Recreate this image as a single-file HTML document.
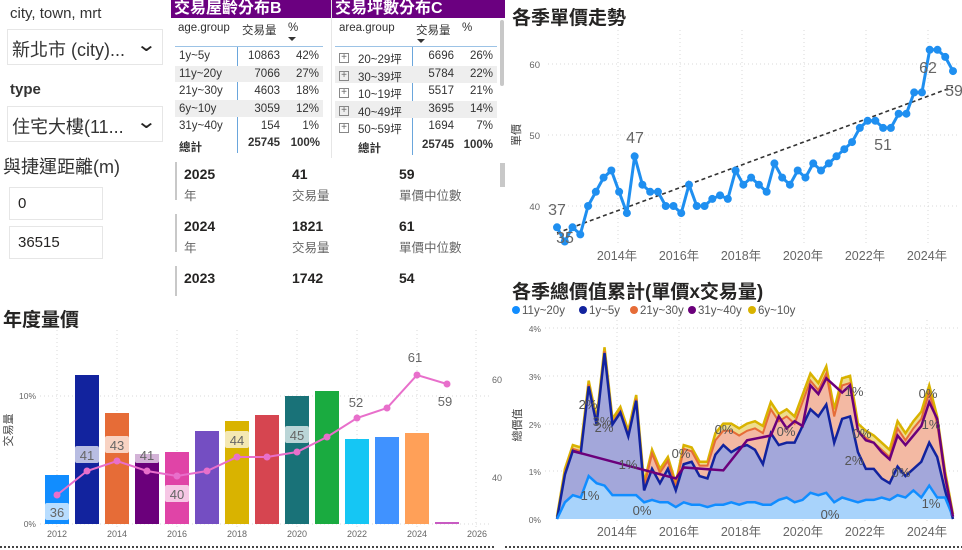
<!DOCTYPE html>
<html><head><meta charset="utf-8">
<style>
*{margin:0;padding:0;box-sizing:border-box}
body{width:962px;height:550px;background:#fff;position:relative;overflow:hidden;font-family:"Liberation Sans","Noto Sans CJK TC",sans-serif;color:#252423}
.a{position:absolute;white-space:nowrap}
.box{position:absolute;border:1px solid #e6e6e6;background:#fff}
.t{font-weight:bold;font-size:19px}
.hdr{position:absolute;background:#6b0080;color:#fff;font-weight:bold;font-size:16px;height:18px;line-height:18px;padding-left:3px}
.tb{position:absolute;font-size:11.5px;color:#333}
.sh{background:#eee}
</style></head><body>
<div class="a" style="left:10px;top:5px;font-size:15px;color:#333">city, town, mrt</div>
<div class="box" style="left:7px;top:29px;width:156px;height:36px"><span class="a" style="left:4px;top:6px;font-size:18px;color:#333">新北市 (city)...</span><span class="a" style="left:130px;top:2px;font-size:20px;transform:scaleX(1.3)">&#8964;</span></div>
<div class="a" style="left:10px;top:81px;font-size:15px;font-weight:bold;color:#333">type</div>
<div class="box" style="left:7px;top:106px;width:156px;height:36px"><span class="a" style="left:4px;top:6px;font-size:18px;color:#333">住宅大樓(11...</span><span class="a" style="left:130px;top:2px;font-size:20px;transform:scaleX(1.3)">&#8964;</span></div>
<div class="a" style="left:3px;top:153px;font-size:18px;color:#333">與捷運距離(m)</div>
<div class="box" style="left:9px;top:187px;width:94px;height:33px"><span class="a" style="left:8px;top:7px;font-size:15px">0</span></div>
<div class="box" style="left:9px;top:226px;width:94px;height:33px"><span class="a" style="left:8px;top:7px;font-size:15px">36515</span></div>

<div class="hdr" style="left:171px;top:0;width:160px">交易屋齡分布B</div>
<div class="hdr" style="left:332px;top:0;width:173px">交易坪數分布C</div>
<div class="a" style="left:331px;top:0;width:1px;height:158px;background:#e6e6e6"></div>

<svg class="a" style="left:0;top:0" width="962" height="550" xmlns="http://www.w3.org/2000/svg" id="s" font-family="Liberation Sans, Noto Sans CJK TC, sans-serif">
</svg>

<div class="tb" style="left:178px;top:22px">age.group</div>
<div class="tb" style="left:242px;top:22px">交易量</div>
<div class="tb" style="left:288px;top:22px">%</div>
<div class="a" style="left:288px;top:37px;width:0;height:0;border-left:4px solid transparent;border-right:4px solid transparent;border-top:4px solid #333"></div>
<div class="a" style="left:175px;top:46px;width:148px;height:1px;background:#9cc3e6"></div>
<div class="a" style="left:237px;top:47px;width:1px;height:106px;background:#6aa6dc"></div>
<div class="a sh" style="left:175px;top:66px;width:148px;height:16px"></div>
<div class="a sh" style="left:175px;top:100px;width:148px;height:17px"></div>

<div class="tb" style="left:339px;top:22px">area.group</div>
<div class="tb" style="left:416px;top:22px">交易量</div>
<div class="tb" style="left:462px;top:22px">%</div>
<div class="a" style="left:417px;top:39px;width:0;height:0;border-left:4px solid transparent;border-right:4px solid transparent;border-top:4px solid #333"></div>
<div class="a" style="left:335px;top:46px;width:162px;height:1px;background:#9cc3e6"></div>
<div class="a" style="left:412px;top:47px;width:1px;height:108px;background:#6aa6dc"></div>
<div class="a sh" style="left:335px;top:66px;width:162px;height:17px"></div>
<div class="a sh" style="left:335px;top:101px;width:162px;height:17px"></div>
<div class="a" style="left:500px;top:20px;width:4px;height:66px;background:#c8c8c8;border-radius:2px"></div>

<div id="rows"></div>

<div class="a" style="left:175px;top:162px;width:2px;height:38px;background:#c8c8c8"></div>
<div class="a" style="left:175px;top:214px;width:2px;height:38px;background:#c8c8c8"></div>
<div class="a" style="left:175px;top:266px;width:2px;height:30px;background:#c8c8c8"></div>
<div class="a" style="left:500px;top:163px;width:5px;height:24px;background:#c8c8c8"></div>
<div id="kpi"></div>

<div class="a t" style="left:512px;top:3px">各季單價走勢</div>
<div class="a t" style="left:3px;top:305px">年度量價</div>
<div class="a t" style="left:512px;top:277px">各季總價值累計(單價x交易量)</div>

<script>
function q(id,h){document.getElementById(id).insertAdjacentHTML('beforeend',h)}
// table rows
var B=[["1y~5y","10863","42%"],["11y~20y","7066","27%"],["21y~30y","4603","18%"],["6y~10y","3059","12%"],["31y~40y","154","1%"]];
var C=[["20~29坪","6696","26%"],["30~39坪","5784","22%"],["10~19坪","5517","21%"],["40~49坪","3695","14%"],["50~59坪","1694","7%"]];
var h='';
for(var i=0;i<5;i++){var y=50+i*17.5;
h+='<div class="tb" style="left:179px;top:'+y+'px">'+B[i][0]+'</div><div class="tb" style="left:240px;width:40px;text-align:right;top:'+y+'px">'+B[i][1]+'</div><div class="tb" style="left:290px;width:29px;text-align:right;top:'+y+'px">'+B[i][2]+'</div>';
h+='<div class="a" style="left:339px;top:'+(y+3)+'px;width:10px;height:10px;border:1px solid #888;font-size:10px;line-height:8px;text-align:center;color:#666">+</div><div class="tb" style="left:358px;top:'+(y+1)+'px">'+C[i][0]+'</div><div class="tb" style="left:415px;width:39px;text-align:right;top:'+y+'px">'+C[i][1]+'</div><div class="tb" style="left:460px;width:33px;text-align:right;top:'+y+'px">'+C[i][2]+'</div>';}
h+='<div class="tb" style="left:179px;top:139px;font-weight:bold">總計</div><div class="tb" style="left:240px;width:40px;text-align:right;top:137px;font-weight:bold">25745</div><div class="tb" style="left:282px;width:38px;text-align:right;top:137px;font-weight:bold">100%</div>';
h+='<div class="tb" style="left:358px;top:140px;font-weight:bold">總計</div><div class="tb" style="left:415px;width:39px;text-align:right;top:139px;font-weight:bold">25745</div><div class="tb" style="left:455px;width:38px;text-align:right;top:139px;font-weight:bold">100%</div>';
q('rows',h);
var K=[["2025","41","59"],["2024","1821","61"],["2023","1742","54"]];h='';
for(i=0;i<3;i++){var y=166+i*52;
var L=["年","交易量","單價中位數"];
for(var j=0;j<3;j++){var x=[184,292,399][j];
h+='<div class="a" style="left:'+x+'px;top:'+y+'px;font-size:14px;font-weight:bold">'+K[i][j]+'</div>';
if(y+20<292)h+='<div class="a" style="left:'+x+'px;top:'+(y+19)+'px;font-size:12.5px;color:#666;height:'+Math.min(17,293-y-19)+'px;overflow:hidden">'+L[j]+'</div>';}}
q('kpi',h);

var S='';
function T(x,y,s,o){o=o||{};S+='<text x="'+x+'" y="'+y+'" font-size="'+(o.fs||11)+'" fill="'+(o.c||'#666')+'" text-anchor="'+(o.a||'middle')+'"'+(o.ex||'')+'>'+s+'</text>'}
function Ln(x1,y1,x2,y2,c,w,d){S+='<line x1="'+x1+'" y1="'+y1+'" x2="'+x2+'" y2="'+y2+'" stroke="'+c+'" stroke-width="'+(w||1)+'"'+(d?' stroke-dasharray="'+d+'"':'')+'/>'}
var G='#d8d8d8';
// ===== top right line chart
[64,135,206].forEach(function(y){Ln(548,y,960,y,G,1,'1 3')});
[618,680,742,804,866,928].forEach(function(x){Ln(x,30,x,246,G,1,'1 3')});
T(540,68,'60',{fs:9.5,a:'end'});T(540,139,'50',{fs:9.5,a:'end'});T(540,210,'40',{fs:9.5,a:'end'});
T(520,135,'單價',{fs:11,c:'#444',ex:' transform="rotate(-90 520 135)"'});
['2014年','2016年','2018年','2020年','2022年','2024年'].forEach(function(s,i){T(617+i*62,260,s,{fs:12.5})});
var v=[37,35,37,36,40,42,44,45,42,39,47,43,42,42,40,40,39,43,40,40,41,41.5,41,45,43,44,43,42,46,44,43,45,44,46,45,46,47,48,49,51,52,52,51,51,53,53,56,56,62,62,61,59];
var n=v.length,pts=[];
for(i=0;i<n;i++){pts.push([557+i*(396/(n-1)),206-(v[i]-40)*7.1])}
Ln(557,233,953,87,'#333',1.6,'4 3');
S+='<polyline fill="none" stroke="#1f8ff0" stroke-width="3" points="'+pts.map(function(p){return p.join(',')}).join(' ')+'"/>';
pts.forEach(function(p){S+='<circle cx="'+p[0]+'" cy="'+p[1]+'" r="4" fill="#1f8ff0"/>'});
T(557,215,'37',{fs:16});T(565,243,'35',{fs:16});T(635,143,'47',{fs:16});T(883,150,'51',{fs:16});T(928,73,'62',{fs:16});T(954,96,'59',{fs:16});

// ===== bottom left bar chart
[396,524].forEach(function(y){Ln(40,y,490,y,G,1,'1 3')});
[57,117,177,237,297,357,417,476].forEach(function(x){Ln(x,330,x,528,G,1,'1 3')});
T(36,399,'10%',{fs:8.5,a:'end'});T(36,527,'0%',{fs:8.5,a:'end'});
T(497,383,'60',{fs:9});T(497,481,'40',{fs:9});
T(12,430,'交易量',{fs:11,c:'#444',ex:' transform="rotate(-90 12 430)"'});
var tops=[475,375,413,454,452,431,421,415,396,391,439,437,433,522];
var cols=['#118DFF','#12239E','#E66C37','#6B007B','#E044A7','#744EC2','#D9B300','#D64550','#197278','#1AAB40','#15C6F4','#4092FF','#FFA058','#C85BC2'];
for(i=0;i<14;i++){var x=57+i*30;S+='<rect x="'+(x-12)+'" y="'+tops[i]+'" width="24" height="'+(524-tops[i])+'" fill="'+cols[i]+'"/>'}
['2012','2014','2016','2018','2020','2022','2024','2026'].forEach(function(s,i){T(57+i*60,537,s,{fs:9})});
var lv=[495,471,461,471,476,471,457,457,452,437,418,408,375,384];
var lp=lv.map(function(y,i){return [57+i*30,y]});
S+='<polyline fill="none" stroke="#e86fcb" stroke-width="2" points="'+lp.map(function(p){return p.join(',')}).join(' ')+'"/>';
lp.forEach(function(p){S+='<circle cx="'+p[0]+'" cy="'+p[1]+'" r="3.5" fill="#e86fcb"/>'});
function lab(x,y,s){S+='<rect x="'+(x-12)+'" y="'+(y-9)+'" width="24" height="17" fill="#fff" fill-opacity="0.7" rx="2"/>';T(x,y+5,s,{fs:13})}
lab(57,512,'36');lab(87,455,'41');lab(117,445,'43');lab(147,455,'41');lab(177,494,'40');lab(237,440,'44');lab(297,435,'45');
T(356,407,'52',{fs:13});T(415,362,'61',{fs:13});T(445,406,'59',{fs:13});

// ===== bottom right area chart
var X0=557,DX=396/50;function px(i){return X0+i*DX}function py(v){return 519-v*47.7}
[328,376,424,471].forEach(function(y){Ln(545,y,960,y,G,1,'1 3')});
[617,679,741,803,865,927].forEach(function(x){Ln(x,320,x,522,G,1,'1 3')});
T(541,332,'4%',{fs:8.5,a:'end'});T(541,380,'3%',{fs:8.5,a:'end'});T(541,428,'2%',{fs:8.5,a:'end'});T(541,475,'1%',{fs:8.5,a:'end'});T(541,523,'0%',{fs:8.5,a:'end'});
T(521,425,'總價值',{fs:11,c:'#444',ex:' transform="rotate(-90 521 425)"'});
['2014年','2016年','2018年','2020年','2022年','2024年'].forEach(function(s,i){T(617+i*62,536,s,{fs:12.5})});
var lb=[0,.35,.5,.45,.9,.75,.7,.5,.5,.5,.5,.35,.4,.35,.35,.25,.35,.3,.3,.25,.3,.3,.35,.3,.35,.35,.3,.3,.4,.45,.35,.4,.55,.5,.55,.35,.45,.4,.35,.4,.4,.45,.4,.5,.45,.6,.45,.7,.45,.45,.05];
var db=[0,.8,1.4,1.35,2.5,1.95,3.2,1.95,2.1,1.65,2.2,.6,1.05,.75,1.05,.6,1.15,1.2,.9,.85,1.35,1.55,1.4,1.5,1.55,1.45,1.15,1.8,1.55,1.6,1.6,1.95,2.3,2.15,2.4,1.6,2.1,2.15,1.4,1.05,1.05,.85,.75,1.1,.9,1.05,1.2,1.6,1.3,.6,.05];
var yl=[.05,1.05,1.55,1.5,2.9,2.1,3.6,2.1,2.35,1.85,2.6,.75,1.45,1.05,1.3,.75,1.55,1.5,1.2,1.2,1.8,2.0,2.0,1.9,2.0,2.05,1.95,2.45,2.2,2.3,2.15,2.6,3.05,2.85,3.2,2.3,2.95,3.0,2.0,1.85,1.75,1.6,1.45,2.05,1.8,2.05,2.25,2.8,2.15,1.0,.1];
var N=51,orr=[],dbb=[];
for(i=0;i<N;i++){var gap=i<20?0.1:(i<30?0.25:(i<47?0.3:0.3));orr.push(Math.max(yl[i]-(i>=20?0.15:0.08),0));
var d=db[i];if(i<11)d=Math.max(d,yl[i]-0.12);dbb.push(Math.min(d,orr[i]));}
// purple line 31y~40y
var pl=[];for(i=0;i<N;i++)pl.push(null);
function area(top,bot,fill){var p='';for(i=0;i<N;i++)p+=px(i)+','+py(top[i])+' ';for(i=N-1;i>=0;i--)p+=px(i)+','+py(bot?bot[i]:0)+' ';S+='<polygon points="'+p+'" fill="'+fill+'"/>'}
function line(a,c,w){var p='';for(i=0;i<N;i++)p+=px(i)+','+py(a[i])+' ';S+='<polyline fill="none" stroke="'+c+'" stroke-width="'+w+'" points="'+p+'"/>'}
area(yl,orr,'#eedc8c');area(orr,dbb,'#f3b9a3');area(dbb,lb,'#a3a7da');area(lb,null,'#a8d3fb');
line(yl,'#D9B300',2.5);line(orr,'#E66C37',2);
// purple line
var pp=[[2,1.42],[3,1.38],[15,.85],[16,1.08],[21,1.02],[24,1.65],[27,1.75],[28,2.15],[29,1.9],[30,2.05],[31,1.95],[32,2.8],[33,2.62],[34,2.95],[36,2.65],[37,2.8],[38,1.85],[39,1.65],[40,1.6],[41,1.4],[42,1.25],[43,1.75],[44,1.55],[45,1.75],[46,1.95],[47,2.45],[48,2.1],[49,.9],[50,.05]];
line(dbb,'#12239E',2.5);line(lb,'#118DFF',2.5);
S+='<polyline fill="none" stroke="#6B007B" stroke-width="2.5" points="'+pp.map(function(p){return px(p[0])+','+py(p[1])}).join(' ')+'"/>';
[[588,409,'2%'],[602,426,'3%'],[628,469,'1%'],[590,500,'1%'],[642,515,'0%'],[681,458,'0%'],[724,434,'0%'],[786,436,'0%'],[862,438,'0%'],[854,396,'1%'],[854,465,'2%'],[830,519,'0%'],[901,477,'0%'],[928,398,'0%'],[931,429,'1%'],[931,508,'1%'],[604,432,'2%']].forEach(function(a){T(a[0],a[1],a[2],{fs:13,c:'#555'})});
// legend
var lg=[['#118DFF','11y~20y',516],['#12239E','1y~5y',583],['#E66C37','21y~30y',634],['#6B007B','31y~40y',692],['#D9B300','6y~10y',752]];
lg.forEach(function(l){S+='<circle cx="'+l[2]+'" cy="310" r="4" fill="'+l[0]+'"/>';T(l[2]+6,314,l[1],{fs:11.5,a:'start',c:'#555'})});
// separators
Ln(0,547,495,547,'#444',2,'2 2');Ln(505,547,962,547,'#444',2,'2 2');
document.getElementById('s').innerHTML=S;
</script>
</body></html>
